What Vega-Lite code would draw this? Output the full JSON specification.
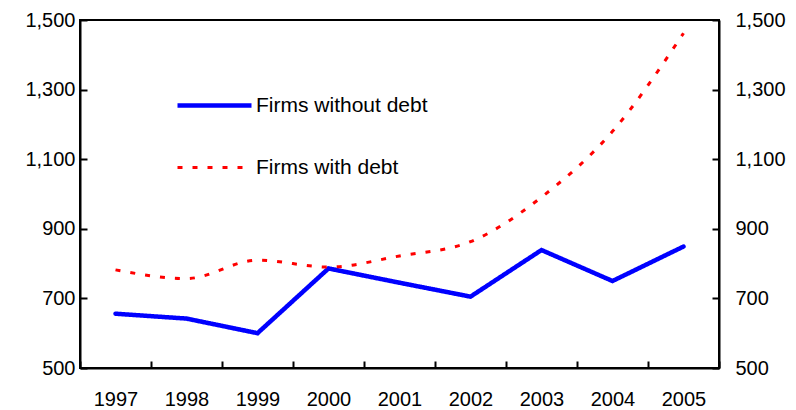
{
  "$schema": "https://vega.github.io/schema/vega-lite/v6.json",
  "width": 639,
  "height": 348,
  "autosize": {"type": "none"},
  "padding": {"left": 80, "top": 20, "right": 77, "bottom": 42},
  "background": "white",
  "config": {
    "font": "Liberation Sans",
    "view": {"stroke": "black", "strokeWidth": 2},
    "axis": {
      "domainColor": "black",
      "domainWidth": 2,
      "tickColor": "black",
      "tickWidth": 2,
      "tickSize": -7,
      "labelFontSize": 20,
      "labelColor": "black",
      "labelFont": "Liberation Sans",
      "grid": false,
      "title": null
    },
    "legend": {"labelFont": "Liberation Sans", "labelFontSize": 21, "labelColor": "black", "labelLimit": 400}
  },
  "data": {
    "values": [
      {"year": "1997", "series": "Firms without debt", "value": 656},
      {"year": "1998", "series": "Firms without debt", "value": 642},
      {"year": "1999", "series": "Firms without debt", "value": 600},
      {"year": "2000", "series": "Firms without debt", "value": 786},
      {"year": "2001", "series": "Firms without debt", "value": 745},
      {"year": "2002", "series": "Firms without debt", "value": 705},
      {"year": "2003", "series": "Firms without debt", "value": 839},
      {"year": "2004", "series": "Firms without debt", "value": 750},
      {"year": "2005", "series": "Firms without debt", "value": 849},
      {"year": "1997", "series": "Firms with debt", "value": 782},
      {"year": "1998", "series": "Firms with debt", "value": 757},
      {"year": "1999", "series": "Firms with debt", "value": 810},
      {"year": "2000", "series": "Firms with debt", "value": 790},
      {"year": "2001", "series": "Firms with debt", "value": 822},
      {"year": "2002", "series": "Firms with debt", "value": 863},
      {"year": "2003", "series": "Firms with debt", "value": 991},
      {"year": "2004", "series": "Firms with debt", "value": 1180},
      {"year": "2005", "series": "Firms with debt", "value": 1462}
    ]
  },
  "encoding": {
    "x": {
      "field": "year",
      "type": "ordinal",
      "bandPosition": 0.5,
      "scale": {"type": "band", "paddingInner": 0, "paddingOuter": 0},
      "axis": {"labelAngle": 0, "tickBand": "extent", "labelPadding": 28}
    }
  },
  "layer": [
    {
      "transform": [{"filter": "datum.series == 'Firms without debt'"}],
      "mark": {"type": "line", "interpolate": "linear", "strokeCap": "round", "strokeJoin": "miter"},
      "encoding": {
        "y": {
          "field": "value",
          "type": "quantitative",
          "scale": {"domain": [500, 1500], "nice": false, "zero": false},
          "axis": {"values": [500, 700, 900, 1100, 1300, 1500], "format": ",d", "labelPadding": 12}
        },
        "color": {
          "field": "series",
          "type": "nominal",
          "scale": {"domain": ["Firms without debt", "Firms with debt"], "range": ["#0000FF", "#FF0000"]},
          "legend": {
            "orient": "none",
            "legendX": 95,
            "legendY": 46,
            "title": null,
            "symbolType": "stroke",
            "symbolSize": 5476,
            "labelOffset": 2,
            "labelLimit": 400,
            "rowPadding": 13,
            "padding": 0
          }
        },
        "strokeDash": {
          "field": "series",
          "type": "nominal",
          "scale": {"domain": ["Firms without debt", "Firms with debt"], "range": [[1, 0], [5, 10]]},
          "legend": {
            "orient": "none",
            "legendX": 95,
            "legendY": 46,
            "title": null,
            "symbolType": "stroke",
            "symbolSize": 5476,
            "labelOffset": 2,
            "labelLimit": 400,
            "rowPadding": 13,
            "padding": 0
          }
        },
        "strokeWidth": {
          "field": "series",
          "type": "nominal",
          "scale": {"domain": ["Firms without debt", "Firms with debt"], "range": [4.5, 3]},
          "legend": {
            "orient": "none",
            "legendX": 95,
            "legendY": 46,
            "title": null,
            "symbolType": "stroke",
            "symbolSize": 5476,
            "labelOffset": 2,
            "labelLimit": 400,
            "rowPadding": 13,
            "padding": 0
          }
        }
      }
    },
    {
      "transform": [{"filter": "datum.series == 'Firms with debt'"}],
      "mark": {"type": "line", "interpolate": "monotone"},
      "encoding": {
        "y": {
          "field": "value",
          "type": "quantitative",
          "scale": {"domain": [500, 1500], "nice": false, "zero": false},
          "axis": null
        },
        "color": {"field": "series", "type": "nominal"},
        "strokeDash": {"field": "series", "type": "nominal"},
        "strokeWidth": {"field": "series", "type": "nominal"}
      }
    },
    {
      "mark": {"type": "line", "opacity": 0},
      "encoding": {
        "y": {
          "field": "value",
          "type": "quantitative",
          "scale": {"domain": [500, 1500], "nice": false, "zero": false},
          "axis": {"orient": "right", "values": [500, 700, 900, 1100, 1300, 1500], "format": ",d", "labelPadding": 23}
        },
        "detail": {"field": "series", "type": "nominal"}
      }
    }
  ],
  "resolve": {"scale": {"y": "independent"}, "axis": {"y": "independent"}}
}
